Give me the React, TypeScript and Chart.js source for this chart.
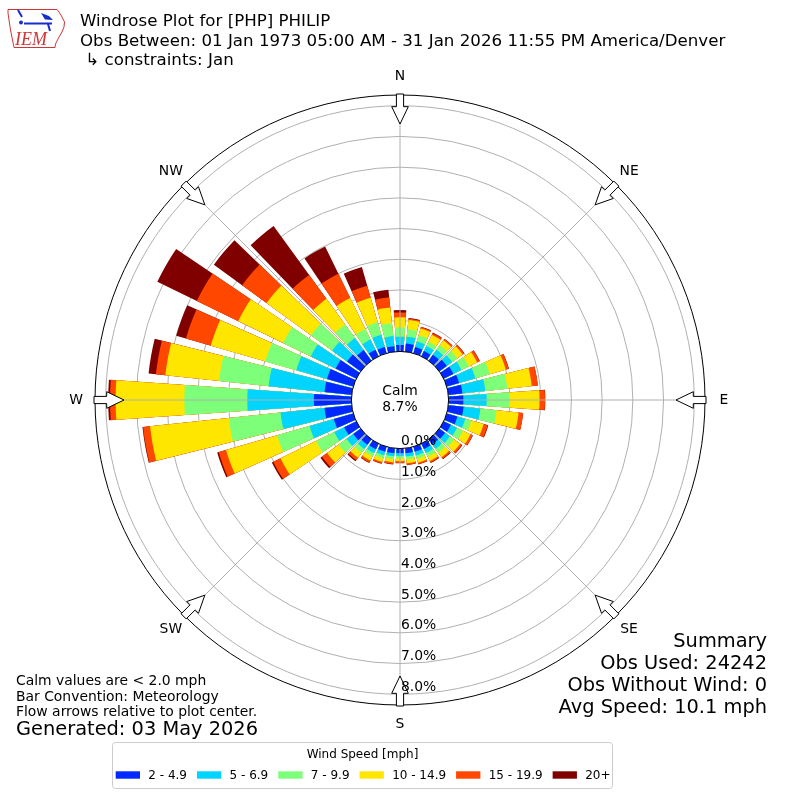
import React, { useEffect, useRef } from 'react';
import { Chart, registerables } from 'chart.js';

Chart.register(...registerables);

// ---------------- data ----------------
const directionDegrees = [
  0, 10, 20, 30, 40, 50, 60, 70, 80, 90, 100, 110, 120, 130, 140, 150, 160, 170,
  180, 190, 200, 210, 220, 230, 240, 250, 260, 270, 280, 290, 300, 310, 320, 330, 340, 350,
];
const speedBinLabels = ['2 - 4.9', '5 - 6.9', '7 - 9.9', '10 - 14.9', '15 - 19.9', '20+'];
const speedBinColors = ['#0028ff', '#00d4ff', '#7dff7a', '#ffe600', '#ff4700', '#800000'];

// percent of observations per direction (0..350 by 10) and speed bin
const pctSpeed2to5 = [
  0.21, 0.27, 0.21, 0.19, 0.24, 0.30, 0.35, 0.42, 0.46, 0.48, 0.50, 0.36, 0.26, 0.23, 0.20, 0.19, 0.17, 0.16,
  0.15, 0.16, 0.17, 0.20, 0.22, 0.30, 0.44, 0.66, 0.89, 1.22, 0.89, 0.89, 0.75, 0.55, 0.43, 0.24, 0.21, 0.18,
];
const pctSpeed5to7 = [
  0.27, 0.22, 0.19, 0.18, 0.20, 0.22, 0.29, 0.55, 0.75, 0.76, 0.55, 0.27, 0.22, 0.20, 0.18, 0.15, 0.13, 0.11,
  0.09, 0.10, 0.12, 0.14, 0.17, 0.27, 0.36, 0.82, 1.44, 2.17, 1.83, 1.04, 0.90, 0.60, 0.48, 0.37, 0.42, 0.33,
];
const pctSpeed7to10 = [
  0.30, 0.24, 0.21, 0.16, 0.18, 0.20, 0.27, 0.49, 0.72, 0.74, 0.53, 0.20, 0.22, 0.17, 0.15, 0.13, 0.11, 0.10,
  0.08, 0.09, 0.10, 0.12, 0.15, 0.32, 0.66, 1.10, 1.69, 2.05, 1.62, 1.05, 1.00, 0.85, 0.55, 0.38, 0.42, 0.42,
];
const pctSpeed10to15 = [
  0.33, 0.31, 0.23, 0.25, 0.20, 0.22, 0.30, 0.54, 0.80, 0.98, 0.72, 0.42, 0.27, 0.24, 0.19, 0.16, 0.13, 0.12,
  0.09, 0.11, 0.12, 0.15, 0.20, 0.46, 1.29, 1.73, 2.58, 2.24, 1.76, 1.85, 1.63, 1.79, 1.03, 1.12, 0.83, 0.52,
];
const pctSpeed15to20 = [
  0.16, 0.04, 0.05, 0.06, 0.05, 0.06, 0.09, 0.10, 0.20, 0.18, 0.15, 0.14, 0.08, 0.07, 0.06, 0.05, 0.05, 0.05,
  0.06, 0.06, 0.06, 0.07, 0.10, 0.21, 0.26, 0.25, 0.23, 0.18, 0.31, 0.84, 1.50, 0.98, 0.96, 0.88, 0.41, 0.33,
];
const pctSpeed20plus = [
  0.08, 0.02, 0.01, 0.02, 0.01, 0.01, 0.01, 0.01, 0.00, 0.01, 0.00, 0.02, 0.01, 0.02, 0.02, 0.02, 0.01, 0.01,
  0.01, 0.01, 0.01, 0.02, 0.04, 0.06, 0.05, 0.05, 0.02, 0.06, 0.24, 0.33, 1.43, 1.14, 1.97, 0.99, 0.63, 0.25,
];

const radialTickValues = [0, 1, 2, 3, 4, 5, 6, 7, 8];
const compassLabels = ['N', 'NE', 'E', 'SE', 'S', 'SW', 'W', 'NW'];
const compassDegrees = [0, 45, 90, 135, 180, 225, 270, 315];
const calmPercent = 8.7;

const titleLines = [
  'Windrose Plot for [PHP] PHILIP',
  'Obs Between: 01 Jan 1973 05:00 AM - 31 Jan 2026 11:55 PM America/Denver',
  ' \u21b3 constraints: Jan',
];
const summaryLines = ['Summary', 'Obs Used: 24242', 'Obs Without Wind: 0', 'Avg Speed: 10.1 mph'];
const noteLines = ['Calm values are < 2.0 mph', 'Bar Convention: Meteorology', 'Flow arrows relative to plot center.'];
const generatedText = 'Generated: 03 May 2026';
const legendTitle = 'Wind Speed [mph]';

// ---------------- config ----------------
const R_MIN = -1.583;
const R_MAX = 8.35;
const BAR_DEG = 8;
const GAP_DEG = 2;
const FONT = '"DejaVu Sans", "Liberation Sans", sans-serif';
const f = (px: number) => `${px}px ${FONT}`;

const binSeries = [pctSpeed2to5, pctSpeed5to7, pctSpeed7to10, pctSpeed10to15, pctSpeed15to20, pctSpeed20plus];

function buildDatasets() {
  return binSeries.map((_, b) => {
    const cumulative = directionDegrees.map((_, i) => {
      let s = 0;
      for (let k = 0; k <= b; k++) s += binSeries[k][i];
      return s;
    });
    const data = cumulative.flatMap((v) => [v, 0]);
    return {
      label: speedBinLabels[b],
      data,
      backgroundColor: (c: any) => (c.dataIndex % 2 === 0 ? speedBinColors[b] : 'rgba(0,0,0,0)'),
      borderWidth: 0,
      angle: (c: any) => (c.dataIndex % 2 === 0 ? BAR_DEG : GAP_DEG),
    };
  });
}

function drawLogo(ctx: CanvasRenderingContext2D) {
  ctx.save();
  ctx.strokeStyle = '#d03535';
  ctx.lineWidth = 1;
  const outline = [
    [8, 9.5], [57, 9.5], [59, 12], [61.5, 16], [64.5, 22], [64, 27], [62, 32], [59, 37],
    [57, 41], [55.5, 44], [55, 47.5], [14, 47.5], [12.5, 40], [10.5, 30], [9, 20], [8, 13],
  ];
  ctx.beginPath();
  outline.forEach(([x, y], k) => (k ? ctx.lineTo(x, y) : ctx.moveTo(x, y)));
  ctx.closePath();
  ctx.stroke();
  ctx.fillStyle = '#d03535';
  ctx.font = 'italic 18px "Liberation Serif", "DejaVu Serif", serif';
  ctx.textAlign = 'left';
  ctx.textBaseline = 'alphabetic';
  ctx.fillText('IEM', 15, 45);
  ctx.strokeStyle = '#1a2ccc';
  ctx.fillStyle = '#1a2ccc';
  ctx.lineWidth = 2;
  ctx.beginPath();
  ctx.moveTo(24, 23.5);
  ctx.lineTo(52, 23.5);
  ctx.moveTo(18, 10);
  ctx.lineTo(22, 17);
  ctx.moveTo(48, 24);
  ctx.lineTo(50, 31);
  ctx.stroke();
  ctx.beginPath();
  ctx.arc(21, 22.5, 2, 0, Math.PI * 2);
  ctx.fill();
  ctx.beginPath();
  ctx.moveTo(41, 13);
  ctx.lineTo(49, 16);
  ctx.lineTo(53, 20);
  ctx.lineTo(45, 19.5);
  ctx.closePath();
  ctx.fill();
  ctx.restore();
}

const decorPlugin = {
  id: 'windroseDecor',
  afterDraw(chart: any) {
    const ctx: CanvasRenderingContext2D = chart.ctx;
    const scale = chart.scales.r;
    const cx = scale.xCenter;
    const cy = scale.yCenter;
    const R = scale.drawingArea;
    const rOf = (v: number) => scale.getDistanceFromCenterForValue(v);
    const r0 = rOf(0);
    const toXY = (deg: number, r: number, w = 0) => {
      const a = ((deg - 90) * Math.PI) / 180;
      return [cx + r * Math.cos(a) - w * Math.sin(a), cy + r * Math.sin(a) + w * Math.cos(a)];
    };
    ctx.save();

    // angular grid lines
    ctx.strokeStyle = '#b0b0b0';
    ctx.lineWidth = 1;
    compassDegrees.forEach((deg) => {
      const [x1, y1] = toXY(deg, r0);
      const [x2, y2] = toXY(deg, R);
      ctx.beginPath();
      ctx.moveTo(x1, y1);
      ctx.lineTo(x2, y2);
      ctx.stroke();
    });

    // calm circle
    ctx.beginPath();
    ctx.arc(cx, cy, r0, 0, Math.PI * 2);
    ctx.fillStyle = '#ffffff';
    ctx.fill();
    ctx.strokeStyle = '#000000';
    ctx.lineWidth = 1;
    ctx.stroke();

    // flow arrows
    compassDegrees.forEach((deg) => {
      const pts = [
        [R - 29, 0], [R - 11.7, 8.3], [R - 11.7, 3.6], [R + 1, 3.6],
        [R + 1, -3.6], [R - 11.7, -3.6], [R - 11.7, -8.3],
      ];
      ctx.beginPath();
      pts.forEach(([s, w], k) => {
        const [x, y] = toXY(deg, s, w);
        if (k) ctx.lineTo(x, y);
        else ctx.moveTo(x, y);
      });
      ctx.closePath();
      ctx.fillStyle = '#ffffff';
      ctx.fill();
      ctx.strokeStyle = '#000000';
      ctx.lineWidth = 1;
      ctx.stroke();
    });

    ctx.fillStyle = '#000000';
    // compass labels
    ctx.font = f(13.9);
    ctx.textAlign = 'center';
    ctx.textBaseline = 'middle';
    compassLabels.forEach((lab, k) => {
      const [x, y] = toXY(compassDegrees[k], R + 19);
      ctx.fillText(lab, x, y);
    });

    // radial tick labels
    ctx.textAlign = 'left';
    radialTickValues.forEach((v) => {
      ctx.fillText(`${v.toFixed(1)}%`, cx + 1, cy + rOf(v) - 7);
    });

    // calm text
    ctx.textAlign = 'center';
    ctx.fillText('Calm', cx, cy - 9);
    ctx.fillText(`${calmPercent.toFixed(1)}%`, cx, cy + 7.5);

    // title
    ctx.textAlign = 'left';
    ctx.textBaseline = 'alphabetic';
    ctx.font = f(16.67);
    titleLines.forEach((t, k) => ctx.fillText(t, 80, 26 + k * 19.5));

    // summary
    ctx.textAlign = 'right';
    ctx.font = f(19.4);
    summaryLines.forEach((t, k) => ctx.fillText(t, 767, 646.5 + k * 22));

    // notes
    ctx.textAlign = 'left';
    ctx.font = f(13.9);
    noteLines.forEach((t, k) => ctx.fillText(t, 16, 685 + k * 15.5));
    ctx.font = f(19.4);
    ctx.fillText(generatedText, 16, 735);

    // legend
    const lx = 112.5, ly = 742.5, lw = 500, lh = 46, rad = 3;
    ctx.beginPath();
    ctx.moveTo(lx + rad, ly);
    ctx.arcTo(lx + lw, ly, lx + lw, ly + lh, rad);
    ctx.arcTo(lx + lw, ly + lh, lx, ly + lh, rad);
    ctx.arcTo(lx, ly + lh, lx, ly, rad);
    ctx.arcTo(lx, ly, lx + lw, ly, rad);
    ctx.closePath();
    ctx.fillStyle = 'rgba(255,255,255,0.8)';
    ctx.fill();
    ctx.strokeStyle = '#cccccc';
    ctx.lineWidth = 1;
    ctx.stroke();
    ctx.fillStyle = '#000000';
    ctx.font = f(12);
    ctx.textAlign = 'center';
    ctx.fillText(legendTitle, lx + lw / 2, 758.3);
    ctx.textAlign = 'left';
    let x = 115.7;
    chart.data.datasets.forEach((ds: any, k: number) => {
      ctx.fillStyle = speedBinColors[k];
      ctx.fillRect(x, 771.3, 24.3, 7.4);
      ctx.fillStyle = '#000000';
      const tx = x + 32.6;
      ctx.fillText(ds.label, tx, 778.8);
      x = tx + ctx.measureText(ds.label).width + 10;
    });

    drawLogo(ctx);
    ctx.restore();
  },
};

export default function App() {
  const canvasRef = useRef<HTMLCanvasElement | null>(null);

  useEffect(() => {
    if (!canvasRef.current) return;
    Chart.defaults.font.family = FONT;
    const chart = new Chart(canvasRef.current, {
      type: 'polarArea',
      data: {
        labels: directionDegrees.flatMap((d) => [`${d}\u00b0`, '']),
        datasets: buildDatasets() as any,
      },
      options: {
        responsive: false,
        maintainAspectRatio: false,
        animation: false,
        events: [],
        layout: { padding: { top: 95, left: 95, right: 95, bottom: 95 } },
        plugins: {
          legend: { display: false },
          tooltip: { enabled: false },
          title: { display: false },
        },
        scales: {
          r: {
            type: 'radialLinear',
            min: R_MIN,
            max: R_MAX,
            beginAtZero: false,
            startAngle: -BAR_DEG / 2,
            ticks: { display: false, stepSize: 1, z: 1 },
            grid: {
              circular: true,
              lineWidth: 1,
              color: (c: any) => {
                const v = c.tick ? c.tick.value : 0;
                if (v < 0) return 'rgba(0,0,0,0)';
                if (v >= R_MAX - 1e-6) return '#000000';
                return '#b0b0b0';
              },
            },
            angleLines: { display: false },
            pointLabels: { display: false },
          },
        },
      } as any,
      plugins: [decorPlugin],
    });
    return () => chart.destroy();
  }, []);

  return (
    <canvas
      ref={canvasRef}
      width={800}
      height={800}
      style={{ position: 'absolute', left: 0, top: 0, width: 800, height: 800 }}
    />
  );
}
